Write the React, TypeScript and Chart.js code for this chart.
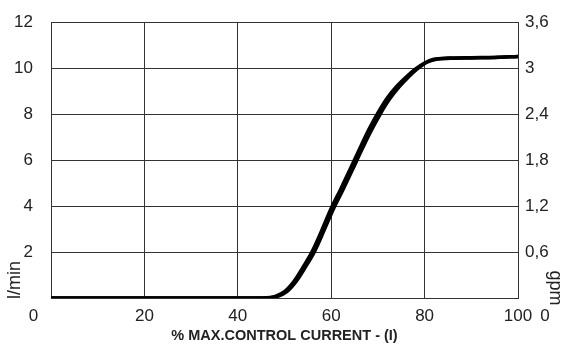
import React, { useEffect, useRef } from "react";
import { Chart, registerables } from "chart.js";

Chart.register(...registerables);

// Flow curve, increasing current
const upX = [0, 45, 47, 48, 50, 52, 54, 56, 58, 60, 62, 64, 66, 68, 70, 72, 74, 76, 78, 80, 82, 85, 90, 95, 100];
const upY = [0, 0, 0.02, 0.07, 0.28, 0.72, 1.35, 2.05, 2.95, 3.9, 4.72, 5.58, 6.45, 7.3, 8.05, 8.7, 9.2, 9.6, 9.95, 10.22, 10.38, 10.43, 10.45, 10.46, 10.5];
// Flow curve, decreasing current (hysteresis)
const downX = [0, 45.5, 47.5, 48.5, 50.5, 52.5, 54.5, 56.5, 58.5, 60.5, 62.5, 64.5, 66.5, 68.5, 70.5, 72.5, 74.5, 76.5, 78.5, 80.5, 82.5, 85.5, 90, 95, 100];
const downY = [0, 0, 0.02, 0.07, 0.28, 0.72, 1.35, 2.05, 2.95, 3.88, 4.7, 5.55, 6.42, 7.25, 8.0, 8.65, 9.17, 9.6, 9.97, 10.25, 10.38, 10.42, 10.44, 10.46, 10.5];

const xTicks = [0, 20, 40, 60, 80, 100];
const leftTicks = [0, 2, 4, 6, 8, 10, 12];
const rightTicks = [0, 0.6, 1.2, 1.8, 2.4, 3, 3.6];

const xTitle = "% MAX.CONTROL CURRENT - (I)";
const leftTitle = "l/min";
const rightTitle = "gpm";

const FONT = "Liberation Sans";
const TXT = "#222";
const GRID = "#333";

const noPad = (s: any) => {
  s.paddingTop = 0;
  s.paddingBottom = 0;
  s.paddingLeft = 0;
  s.paddingRight = 0;
};

export default function App() {
  const ref = useRef<HTMLCanvasElement>(null);
  useEffect(() => {
    document.body.style.margin = "0";
    const extra = {
      id: "extraText",
      afterDraw(chart: any) {
        const ctx = chart.ctx;
        const a = chart.chartArea;
        ctx.save();
        ctx.fillStyle = TXT;
        ctx.font = `17px "${FONT}"`;
        ctx.textAlign = "center";
        ctx.textBaseline = "middle";
        const y0 = chart.scales.y.getPixelForValue(0) + 18;
        ctx.fillText("0", a.left - 17.5, y0);
        ctx.fillText("0", a.right + 27, y0);
        ctx.font = `18px "${FONT}"`;
        ctx.save();
        ctx.translate(a.left - 36, a.bottom - 18);
        ctx.rotate(-Math.PI / 2);
        ctx.fillText(leftTitle, 0, 0);
        ctx.restore();
        ctx.save();
        ctx.translate(a.right + 37, a.bottom - 10);
        ctx.rotate(Math.PI / 2);
        ctx.fillText(rightTitle, 0, 0);
        ctx.restore();
        ctx.restore();
      },
    };
    const chart = new Chart(ref.current!, {
      type: "line",
      data: {
        datasets: [
          {
            data: upX.map((x, i) => ({ x, y: upY[i] })),
            borderColor: "#000",
            borderWidth: 3.5,
            pointRadius: 0,
            cubicInterpolationMode: "monotone",
            yAxisID: "y",
          },
          {
            data: downX.map((x, i) => ({ x, y: downY[i] })),
            borderColor: "#000",
            borderWidth: 3.5,
            pointRadius: 0,
            cubicInterpolationMode: "monotone",
            yAxisID: "y",
          },
        ],
      },
      options: {
        animation: false,
        responsive: false,
        layout: { padding: { top: 22, left: 0, right: 0, bottom: 0 } },
        plugins: { legend: { display: false }, tooltip: { enabled: false } },
        scales: {
          x: {
            type: "linear",
            min: 0,
            max: 100,
            afterBuildTicks: (s: any) => {
              s.ticks = xTicks.map((v) => ({ value: v }));
            },
            ticks: {
              callback: (v: any) => (v === 0 ? "" : String(v)),
              color: TXT,
              font: { family: FONT, size: 17 },
              padding: 8,
              maxRotation: 0,
            },
            grid: { color: GRID, lineWidth: 1, drawTicks: false },
            border: { color: GRID },
            title: {
              display: true,
              text: xTitle,
              color: TXT,
              font: { family: FONT, size: 14.5, weight: "bold" },
              padding: { top: 0, bottom: 0 },
            },
            afterFit: (s: any) => {
              s.height = 47;
              noPad(s);
            },
          },
          y: {
            position: "left",
            min: 0,
            max: 12,
            afterBuildTicks: (s: any) => {
              s.ticks = leftTicks.map((v) => ({ value: v }));
            },
            ticks: {
              callback: (v: any) => (v === 0 ? "" : String(v)),
              color: TXT,
              font: { family: FONT, size: 17 },
              padding: 18,
            },
            grid: { color: GRID, lineWidth: 1, drawTicks: false },
            border: { color: GRID },
            afterFit: (s: any) => {
              s.width = 51;
              noPad(s);
            },
          },
          y2: {
            position: "right",
            min: 0,
            max: 3.6,
            afterBuildTicks: (s: any) => {
              s.ticks = rightTicks.map((v) => ({ value: v }));
            },
            ticks: {
              callback: (v: any) =>
                v === 0 ? "" : String(Math.round(v * 10) / 10).replace(".", ","),
              color: TXT,
              font: { family: FONT, size: 17 },
              padding: 7,
            },
            grid: { drawOnChartArea: false, drawTicks: false },
            border: { color: GRID },
            afterFit: (s: any) => {
              s.width = 45;
              noPad(s);
            },
          },
        },
      },
      plugins: [extra],
    } as any);
    return () => chart.destroy();
  }, []);
  return (
    <div style={{ width: 563, height: 345 }}>
      <canvas ref={ref} width={563} height={345} style={{ display: "block" }} />
    </div>
  );
}
